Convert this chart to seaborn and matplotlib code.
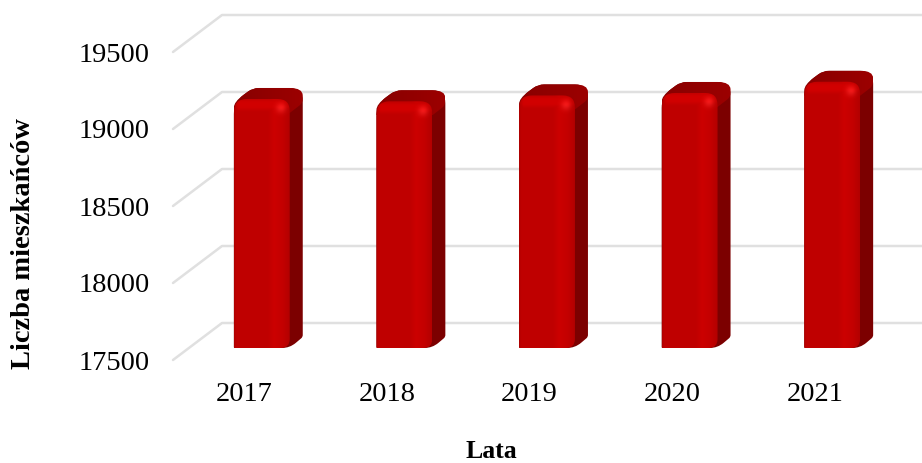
import matplotlib
matplotlib.use("Agg")
import matplotlib.pyplot as plt
import matplotlib.transforms as mtransforms
from matplotlib.colors import to_rgb
from matplotlib.patches import PathPatch
from matplotlib.path import Path
import numpy as np
import pandas as pd
import seaborn as sns

YEARS = ["2017", "2018", "2019", "2020", "2021"]
RESIDENTS = [19117, 19102, 19140, 19156, 19229]
Y_TICKS = [17500, 18000, 18500, 19000, 19500]
X_LABEL = "Lata"
Y_LABEL = "Liczba mieszkańców"

FIG_W, FIG_H = 922, 463
GRID_COLOR = "#e0e0e0"
BAR_SHIFT = (17.5, 12)    # bar front face vs. the front plane, pixels
WALL_DEPTH = (49, 37)     # front plane to back wall, pixels
BAR_DEPTH = (13, 11)      # depth of each bar, pixels


def rounded_path(points, radii):
	"""Closed polygon with corners rounded by quadratic curves."""
	points = [np.array(p, dtype=float) for p in points]
	verts, codes = [], []
	n = len(points)
	for i, p in enumerate(points):
		prev_dir = points[i - 1] - p
		next_dir = points[(i + 1) % n] - p
		a = p + prev_dir / np.linalg.norm(prev_dir) * min(radii[i], np.linalg.norm(prev_dir) / 2)
		b = p + next_dir / np.linalg.norm(next_dir) * min(radii[i], np.linalg.norm(next_dir) / 2)
		verts.append(a)
		codes.append(Path.MOVETO if i == 0 else Path.LINETO)
		verts += [p, b]
		codes += [Path.CURVE3, Path.CURVE3]
	verts.append(verts[0])
	codes.append(Path.CLOSEPOLY)
	return Path(verts, codes)


def face_shading(width, height):
	"""RGB image for the front of a bar: side band, top bevel and highlight."""
	w, h = int(width) * 2, int(height) * 2
	xs = (np.arange(w) + 0.5) / w
	ys = (np.arange(h) + 0.5) / 2  # pixels from the top
	stops = [0, 0.04, 0.6, 0.72, 0.86, 1]
	reds = [0.68, 0.75, 0.75, 0.80, 0.77, 0.70]
	red = np.tile(np.interp(xs, stops, reds), (h, 1))
	bevel = np.interp(ys, [0, 4, 9, 17], [0.74, 0.82, 0.82, 0.7])
	red = np.maximum(red, bevel[:, None] * np.interp(xs, [0, 0.08, 0.88, 1], [0.85, 1, 1, 0.88]))
	xx, yy = np.meshgrid(xs * width, ys)
	glow = np.exp(-(((xx - width * 0.84) / 5) ** 2 + ((yy - 10) / 5) ** 2))
	red = np.clip(red + 0.14 * glow, 0, 1)
	return np.dstack([red, 0.1 * glow, 0.1 * glow])


sns.set_theme(style="white")
plt.rcParams["font.family"] = ["Liberation Serif", "DejaVu Serif"]

fig = plt.figure(figsize=(FIG_W / 100, FIG_H / 100), dpi=100)
ax = fig.add_axes([173 / FIG_W, 1 - 360 / FIG_H, 713 / FIG_W, 308 / FIG_H])

df = pd.DataFrame({"year": YEARS, "above_base": np.array(RESIDENTS) - Y_TICKS[0]})
sns.barplot(data=df, x="year", y="above_base", bottom=Y_TICKS[0], color="#c00000",
	width=0.392, saturation=1, ax=ax, zorder=3)
ax.set_ylim(Y_TICKS[0], Y_TICKS[-1])
ax.set_xlim(-0.5, 4.5)
ax.set_yticks(Y_TICKS)
sns.despine(ax=ax, left=True, bottom=True)
ax.tick_params(axis="y", length=0, pad=17, labelsize=20.5, colors="black")
ax.tick_params(axis="x", length=0, pad=16, labelsize=20.5, colors="black")
ax.set_xlabel(X_LABEL, fontsize=18.5, fontweight="bold", color="black", va="center")
ax.set_ylabel(Y_LABEL, fontsize=20.5, fontweight="bold", color="black", va="center")
ax.xaxis.set_label_coords(491 / FIG_W, 1 - 452 / FIG_H, transform=fig.transFigure)
ax.yaxis.set_label_coords(24 / FIG_W, 1 - 244 / FIG_H, transform=fig.transFigure)

# floor and wall lines: diagonal from the front plane, then along the back wall
back = mtransforms.offset_copy(ax.transData, fig=fig, x=WALL_DEPTH[0], y=WALL_DEPTH[1], units="dots")
for tick in Y_TICKS:
	start = ax.transData.transform((-0.5, tick))
	corner = back.transform((-0.5, tick))
	end = back.transform((4.5, tick))
	ax.plot([start[0], corner[0], end[0]], [start[1], corner[1], end[1]],
		transform=mtransforms.IdentityTransform(), color=GRID_COLOR, lw=1.8,
		clip_on=False, zorder=1, solid_joinstyle="round")

# shift bars off the front plane, then paint the 3D look over them
front = mtransforms.offset_copy(ax.transData, fig=fig, x=BAR_SHIFT[0], y=BAR_SHIFT[1], units="dots")
overlay = fig.add_axes([0, 0, 1, 1], zorder=5)
overlay.set_xlim(0, FIG_W)
overlay.set_ylim(0, FIG_H)
overlay.axis("off")
overlay.patch.set_alpha(0)

dx, dy = BAR_DEPTH
for bar in ax.patches:
	bar.set_transform(front)
	bar.set_clip_on(False)
	bar.set_visible(False)  # the painted shapes below stand in for the flat rectangle
	box = bar.get_window_extent()
	x0, x1, yb, yt = box.x0, box.x1, box.y0, box.y1

	body = rounded_path(
		[(x0, yb), (x1, yb), (x1 + dx, yb + dy), (x1 + dx, yt + dy), (x0 + dx + 6, yt + dy), (x0, yt - 3)],
		[1, 8, 2, 13, 6, 12],
	)
	overlay.add_patch(PathPatch(body, fc="#7c0000", ec="none", zorder=2))
	top = rounded_path(
		[(x0, yt - 14), (x1, yt - 14), (x1 + dx, yt - 4), (x1 + dx, yt + dy), (x0 + dx + 6, yt + dy), (x0, yt - 3)],
		[0, 0, 4, 13, 6, 12],
	)
	top_img = overlay.imshow(
		np.linspace(to_rgb("#880000"), to_rgb("#9c0000"), 32)[None, :, :],
		extent=(x0, x1 + dx, yt - 14, yt + dy), aspect="auto", zorder=3, interpolation="bilinear",
	)
	top_img.set_clip_path(PathPatch(top, transform=overlay.transData))

	face = rounded_path([(x0, yb), (x1, yb), (x1, yt), (x0, yt)], [1, 9, 12, 13])
	img = overlay.imshow(
		face_shading(x1 - x0, yt - yb), extent=(x0, x1, yb, yt), aspect="auto",
		zorder=4, interpolation="bilinear",
	)
	img.set_clip_path(PathPatch(face, transform=overlay.transData))

overlay.set_xlim(0, FIG_W)
overlay.set_ylim(0, FIG_H)

fig.savefig("out.png", dpi=100, facecolor="white")
